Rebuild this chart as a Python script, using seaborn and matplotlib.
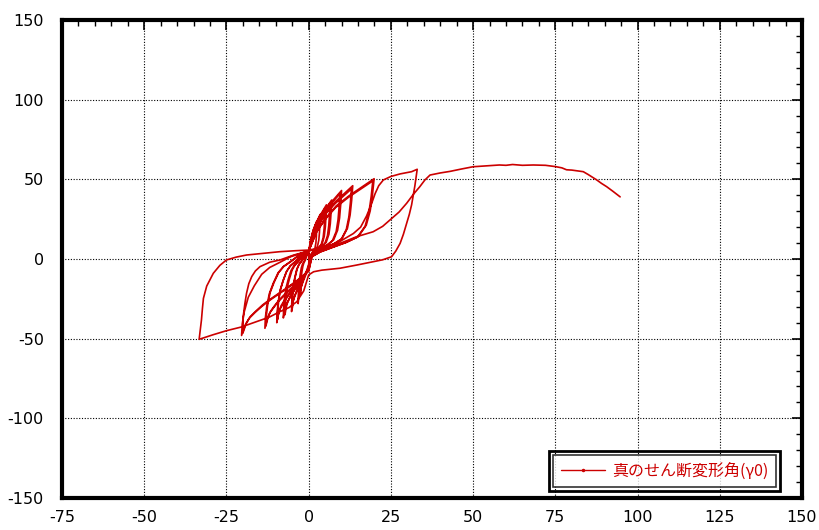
import matplotlib
matplotlib.use("Agg")
import matplotlib.pyplot as plt
import seaborn as sns
import pandas as pd
from matplotlib.lines import Line2D
from matplotlib.patches import Rectangle
from matplotlib.ticker import MultipleLocator

# ---- data (shear angle gamma, load Q), one list per cycle ----
c1_x = [0, 0.13, 0.3, 0.63, 1.05, 1.55, 2.05, 2.5,
        2.44, 2.35, 2.2, 1.9, 1.45, 0.95, 0.45, 0.13,
        0, -0.38, -0.75, -1.13, -1.45, -1.75, -2, -2.23, -2.38, -2.5,
        -2.48, -2.4, -2.25, -2.03, -1.75, -1.45, -1.05, -0.68, -0.3, 0]
c1_y = [0, 4.8, 8.2, 12, 15.8, 19, 21.6, 24,
        19.2, 14.4, 10.1, 6.7, 5, 3.6, 2.2, 0.7,
        -3.5, -5.9, -8.1, -10.1, -11.9, -13.6, -15.4, -17.2, -19.1, -22,
        -18.7, -15.2, -11, -7.7, -4.4, -2.4, -0.9, 1.4, 3.5, 5]
c2_x = [0.18, 0.42, 0.88, 1.47, 2.17, 2.87, 3.5,
        3.41, 3.29, 3.08, 2.66, 2.03, 1.33, 0.63, 0.18,
        0, -0.48, -0.96, -1.44, -1.86, -2.24, -2.56, -2.85, -3.04, -3.2,
        -3.17, -3.07, -2.88, -2.59, -2.24, -1.86, -1.34, -0.86, -0.38, 0]
c2_y = [5.6, 9.5, 14, 18.5, 22.1, 25.2, 28,
        22.4, 16.8, 11.8, 7.8, 5.9, 4.2, 2.5, 0.8,
        -4.5, -7.6, -10.4, -12.9, -15.1, -17.4, -19.6, -21.8, -24.4, -28,
        -23.8, -19.3, -14, -9.8, -5.6, -3.1, -1.1, 1.4, 3.5, 5]
c3_x = [0.27, 0.65, 1.35, 2.27, 3.35, 4.43, 5.4,
        5.27, 5.08, 4.75, 4.1, 3.13, 2.05, 0.97, 0.27,
        0, -0.78, -1.56, -2.34, -3.02, -3.64, -4.16, -4.63, -4.94, -5.2,
        -5.15, -4.99, -4.68, -4.21, -3.64, -3.02, -2.18, -1.4, -0.62, 0]
c3_y = [6.8, 11.6, 17, 22.4, 26.9, 30.6, 34,
        27.2, 20.4, 14.3, 9.5, 7.1, 5.1, 3.1, 1,
        -5.3, -8.9, -12.2, -15.2, -17.8, -20.5, -23.1, -25.7, -28.7, -33,
        -28, -22.8, -16.5, -11.6, -6.6, -3.6, -1.3, 1.4, 3.5, 5]
c4_x = [0.25, 0.6, 1.25, 2.1, 3.1, 4.1, 5,
        4.88, 4.7, 4.4, 3.8, 2.9, 1.9, 0.9, 0.25,
        0, -0.75, -1.5, -2.25, -2.9, -3.5, -4, -4.45, -4.75, -5,
        -4.95, -4.8, -4.5, -4.05, -3.5, -2.9, -2.1, -1.35, -0.6, 0]
c4_y = [6.4, 10.9, 16, 21.1, 25.3, 28.8, 32,
        25.6, 19.2, 13.4, 9, 6.7, 4.8, 2.9, 1,
        -5, -8.4, -11.5, -14.3, -16.7, -19.2, -21.7, -24.2, -27, -31,
        -26.4, -21.4, -15.5, -10.9, -6.2, -3.4, -1.2, 1.4, 3.5, 5]
c5_x = [0.35, 0.84, 1.75, 2.94, 4.34, 5.74, 7,
        6.83, 6.58, 6.16, 5.32, 4.06, 2.66, 1.26, 0.35,
        0, -1.16, -2.31, -3.47, -4.47, -5.39, -6.16, -6.85, -7.32, -7.7,
        -7.62, -7.39, -6.93, -6.24, -5.39, -4.47, -3.23, -2.08, -0.92, 0]
c5_y = [7.4, 12.6, 18.5, 24.4, 29.2, 33.3, 37,
        29.6, 22.2, 15.5, 10.4, 7.8, 5.6, 3.3, 1.1,
        -5.9, -10, -13.7, -17, -20, -22.9, -25.9, -28.9, -32.2, -37,
        -31.5, -25.5, -18.5, -13, -7.4, -4.1, -1.5, 1.4, 3.5, 5]
c6_x = [0.33, 0.78, 1.63, 2.73, 4.03, 5.33, 6.5,
        6.34, 6.11, 5.72, 4.94, 3.77, 2.47, 1.17, 0.33,
        0, -1.08, -2.16, -3.24, -4.18, -5.04, -5.76, -6.41, -6.84, -7.2,
        -7.13, -6.91, -6.48, -5.83, -5.04, -4.18, -3.02, -1.94, -0.86, 0]
c6_y = [7, 11.9, 17.5, 23.1, 27.7, 31.5, 35,
        28, 21, 14.7, 9.8, 7.4, 5.3, 3.2, 1.1,
        -5.6, -9.5, -13, -16.1, -18.9, -21.7, -24.5, -27.3, -30.5, -35,
        -29.8, -24.2, -17.5, -12.3, -7, -3.9, -1.4, 1.4, 3.5, 5]
c7_x = [0.5, 1.2, 2.5, 4.2, 6.2, 8.2, 10,
        9.75, 9.4, 8.8, 7.6, 5.8, 3.8, 1.8, 0.5,
        0, -1.46, -2.91, -4.37, -5.63, -6.79, -7.76, -8.63, -9.22, -9.7,
        -9.6, -9.31, -8.73, -7.86, -6.79, -5.63, -4.07, -2.62, -1.16, 0]
c7_y = [8.6, 14.6, 21.5, 28.4, 34, 38.7, 43,
        34.4, 25.8, 18.1, 12, 9, 6.5, 3.9, 1.3,
        -6.4, -10.8, -14.8, -18.4, -21.6, -24.8, -28, -31.2, -34.8, -40,
        -34, -27.6, -20, -14, -8, -4.4, -1.6, 1.4, 3.5, 5]
c8_x = [0.48, 1.14, 2.38, 3.99, 5.89, 7.79, 9.5,
        9.26, 8.93, 8.36, 7.22, 5.51, 3.61, 1.71, 0.48,
        0, -1.43, -2.85, -4.28, -5.51, -6.65, -7.6, -8.46, -9.03, -9.5,
        -9.41, -9.12, -8.55, -7.7, -6.65, -5.51, -3.99, -2.57, -1.14, 0]
c8_y = [8.2, 13.9, 20.5, 27.1, 32.4, 36.9, 41,
        32.8, 24.6, 17.2, 11.5, 8.6, 6.2, 3.7, 1.2,
        -6.1, -10.3, -14.1, -17.5, -20.5, -23.6, -26.6, -29.6, -33.1, -38,
        -32.3, -26.2, -19, -13.3, -7.6, -4.2, -1.5, 1.4, 3.5, 5]
c9_x = [0.67, 1.61, 3.35, 5.63, 8.31, 10.99, 13.4,
        13.07, 12.6, 11.79, 10.18, 7.77, 5.09, 2.41, 0.67,
        0, -2, -3.99, -5.99, -7.71, -9.31, -10.64, -11.84, -12.64, -13.3,
        -13.17, -12.77, -11.97, -10.77, -9.31, -7.71, -5.59, -3.59, -1.6, 0]
c9_y = [9.2, 15.6, 23, 30.4, 36.3, 41.4, 46,
        36.8, 27.6, 19.3, 12.9, 9.7, 6.9, 4.1, 1.4,
        -7, -11.7, -16.1, -20, -23.5, -27, -30.5, -33.9, -37.8, -43.5,
        -37, -30, -21.8, -15.2, -8.7, -4.8, -1.7, 1.4, 3.5, 5]
c10_x = [0.65, 1.56, 3.25, 5.46, 8.06, 10.66, 13,
         12.68, 12.22, 11.44, 9.88, 7.54, 4.94, 2.34, 0.65,
         0, -1.95, -3.9, -5.85, -7.54, -9.1, -10.4, -11.57, -12.35, -13,
         -12.87, -12.48, -11.7, -10.53, -9.1, -7.54, -5.46, -3.51, -1.56, 0]
c10_y = [8.8, 15, 22, 29, 34.8, 39.6, 44,
         35.2, 26.4, 18.5, 12.3, 9.2, 6.6, 4, 1.3,
         -6.7, -11.3, -15.5, -19.3, -22.7, -26, -29.4, -32.8, -36.5, -42,
         -35.7, -29, -21, -14.7, -8.4, -4.6, -1.7, 1.4, 3.5, 5]
c11_x = [1, 2.39, 4.98, 8.36, 12.34, 16.32, 19.9,
         19.4, 18.71, 17.51, 15.12, 11.54, 7.56, 3.58, 1,
         0, -3.06, -6.12, -9.18, -11.83, -14.28, -16.32, -18.16, -19.38, -20.4,
         -20.2, -19.58, -18.36, -16.52, -14.28, -11.83, -8.57, -5.51, -2.45, 0]
c11_y = [10.1, 17.1, 25.2, 33.3, 39.8, 45.4, 50.4,
         40.3, 30.2, 21.2, 14.1, 10.6, 7.6, 4.5, 1.5,
         -7.7, -13, -17.8, -22.1, -25.9, -29.8, -33.6, -37.4, -41.8, -48,
         -40.8, -33.1, -24, -16.8, -9.6, -5.3, -1.9, 1.4, 3.5, 5]
c12_x = [0.98, 2.34, 4.88, 8.19, 12.09, 15.99, 19.5,
         19.01, 18.33, 17.16, 14.82, 11.31, 7.41, 3.51, 0.98,
         0, -3, -6, -9, -11.6, -14, -16, -17.8, -19, -20,
         -19.9, -19.4, -18.9, -18.2, -17.3, -16.2, -14.8, -11.8, -8.7, -4.5, 0]
c12_y = [9.8, 16.7, 24.5, 32.3, 38.7, 44.1, 49,
         39.2, 29.4, 20.6, 13.7, 10.3, 7.4, 4.4, 1.5,
         -7.4, -12.6, -17.2, -21.4, -25.1, -28.8, -32.6, -36.3, -40.5, -46.5,
         -36, -28, -21.6, -15.5, -11, -7.5, -4.8, -2, -0.6, 2.5, 5]
c13_x = [5, 9.5, 13.6, 15.8, 17.6, 19, 20.2, 21.3, 22.7, 25, 27.8, 31.3, 33,
         32.7, 32.3, 31.8, 31.3, 30.6, 29.8, 28.8, 27.8, 26.5, 25.2, 22.5, 19.6, 14.6, 9.5, 4, 1.5,
         0, -1.5, -3.6, -6, -8.7, -12, -15.8, -20.5, -25, -29, -33.3]
c13_y = [7.5, 11, 16, 20, 27, 34, 41, 46, 49.6, 51.8, 53.4, 54.8, 56.3,
         52, 46, 40, 34, 28, 22.4, 15.5, 9.8, 5, 1.4, -0.5, -1.7, -3.8, -5.8, -7, -8,
         -10, -20, -26.8, -30.5, -33, -36.5, -39.3, -42.7, -45, -47.5, -50.4]
final_x = [-33, -32.6, -32.3, -32, -31, -29, -27, -25, -22, -18.9, -14, -8.7, -4, 0,
           5, 9.5, 14.6, 19.6, 22.5, 24.7, 27.5, 29.8, 31.8, 33.8, 35.3, 36.9, 40, 43, 46.5, 50,
           53, 55, 58, 60, 62, 65, 68.3, 72, 75, 77, 78.4, 80, 83.5, 85, 86.5, 87.6, 89, 90.6,
           92.5, 94.7]
final_y = [-45, -38.3, -31, -24.7, -17, -9, -4, -0.6, 1.2, 2.5, 3.5, 4.6, 5.2, 5.6,
           7.5, 9.8, 14, 17.1, 20.5, 24.5, 29.5, 35, 40.5, 45.4, 49.5, 52.7, 54, 55, 56.5, 57.9,
           58.3, 58.5, 59, 58.8, 59.3, 58.8, 59, 58.8, 58, 57.2, 56, 55.8, 54.8, 53, 51, 49.6, 47.5,
           45.4, 42.5, 39]

series_label = "真のせん断変形角(γ0)"
x_ticks = [-75, -50, -25, 0, 25, 50, 75, 100, 125, 150]
y_ticks = [-150, -100, -50, 0, 50, 100, 150]

xs = (c1_x + c2_x + c3_x + c4_x + c5_x + c6_x + c7_x + c8_x + c9_x + c10_x
      + c11_x + c12_x + c13_x + final_x)
ys = (c1_y + c2_y + c3_y + c4_y + c5_y + c6_y + c7_y + c8_y + c9_y + c10_y
      + c11_y + c12_y + c13_y + final_y)
df = pd.DataFrame({"gamma": xs, "Q": ys})

sns.set_theme(style="white")
plt.rcParams["font.family"] = ["DejaVu Sans", "Noto Sans CJK JP"]
plt.rcParams["axes.unicode_minus"] = False

red = "#CC0000"
fig = plt.figure(figsize=(8.2, 5.3), dpi=100)
ax = fig.add_axes([62 / 820, 32 / 530, 740 / 820, 478 / 530])

sns.lineplot(data=df, x="gamma", y="Q", sort=False, estimator=None,
             color=red, lw=1.2, ax=ax, legend=False)

ax.set_xlim(-75, 150)
ax.set_ylim(-150, 150)
ax.set_xticks(x_ticks)
ax.set_yticks(y_ticks)
ax.set_xticklabels([str(v) for v in x_ticks])
ax.set_yticklabels([str(v) for v in y_ticks])
ax.xaxis.set_minor_locator(MultipleLocator(5))
ax.yaxis.set_minor_locator(MultipleLocator(10))
ax.tick_params(which="both", direction="in", top=True, right=True, colors="black",
               labelsize=11.5)
ax.tick_params(which="major", length=7, width=1.2)
ax.tick_params(which="minor", length=4, width=1.0)
ax.tick_params(axis="x", pad=9)
ax.tick_params(axis="y", pad=13)
ax.grid(True, which="major", color="black", linestyle=(0, (1, 1.5)), linewidth=0.8)
ax.set_xlabel("")
ax.set_ylabel("")
for s in ax.spines.values():
    s.set_visible(True)
    s.set_color("black")
    s.set_linewidth(3)

handle = Line2D([], [], color=red, lw=1.0, marker=".", markersize=3)
leg = ax.legend([handle], [series_label], loc="lower right",
                bbox_to_anchor=(0.965, 0.024), borderaxespad=0, frameon=True,
                fancybox=False, handlelength=2.8, handletextpad=0.45, borderpad=0.45,
                prop={"family": ["Noto Sans CJK JP", "DejaVu Sans"], "size": 11.5})
leg.get_frame().set_edgecolor("black")
leg.get_frame().set_linewidth(1.2)
for t in leg.get_texts():
    t.set_color(red)

fig.canvas.draw()
bb = leg.get_window_extent().transformed(fig.transFigure.inverted())
pw, ph = 4 / 820, 4 / 530
fig.patches.append(Rectangle((bb.x0 - pw, bb.y0 - ph), bb.width + 2 * pw, bb.height + 2 * ph,
                             transform=fig.transFigure, fill=False, edgecolor="black",
                             linewidth=2, zorder=10))

fig.savefig("out.png", dpi=100)
